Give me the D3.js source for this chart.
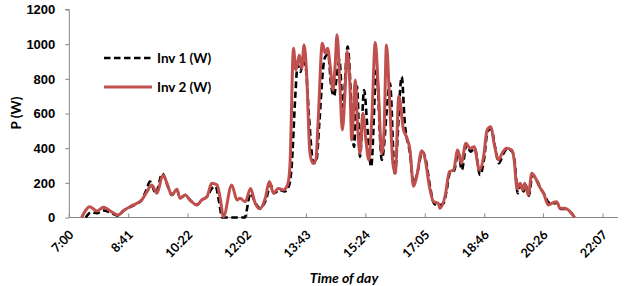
<!DOCTYPE html>
<html>
<head>
<meta charset="utf-8">
<script src="https://cdn.jsdelivr.net/npm/d3@7"></script>
<style>
    body { margin: 0; background: #fff; }
    svg { display: block; font-family: Lato, "Open Sans", sans-serif; }
</style>
</head>
<body>
<svg id="chart" width="627" height="286"></svg>
<script>
// x tick labels (category style, every ~101 min)
const tickLabels = ["7:00", "8:41", "10:22", "12:02", "13:43", "15:24", "17:05", "18:46", "20:26", "22:07"]
const yTicks = [0, 200, 400, 600, 800, 1000, 1200]

// Inv 1 (W)
const inv1Times = ["7:28", "7:37", "7:47", "7:58", "8:09", "8:23", "8:32", "8:43", "8:55", "9:03", "9:11", "9:17", "9:27", "9:38", "9:48", "9:54", "10:03", "10:08", "10:17", "10:25", "10:37", "10:45", "10:54", "11:03", "11:09", "11:14", "11:20", "11:58", "12:08", "12:16", "12:24", "12:34", "12:42", "12:48", "12:57", "13:06", "13:13", "13:18", "13:24", "13:28", "13:33", "13:37", "13:42", "13:47", "13:55", "14:00", "14:05", "14:12", "14:15", "14:20", "14:25", "14:30", "14:34", "14:39", "14:45", "14:53", "15:04", "15:09", "15:14", "15:21", "15:27", "15:33", "15:42", "15:51", "16:05", "16:13", "16:25", "16:30", "16:39", "16:45", "16:51", "17:00", "17:06", "17:13", "17:20", "17:28", "17:36", "17:41", "17:47", "17:54", "18:01", "18:07", "18:15", "18:22", "18:29", "18:38", "18:45", "18:51", "18:57", "19:04", "19:10", "19:18", "19:24", "19:33", "19:37", "19:42", "19:47", "19:52", "19:55", "20:01", "20:07", "20:12", "20:20", "20:27", "20:35", "20:41", "20:49", "20:55", "21:03", "21:12", "21:19"]
const inv1Values = [0, 30, 25, 40, 30, 10, 39, 60, 80, 100, 160, 207, 140, 254, 175, 130, 160, 111, 130, 101, 72, 101, 120, 170, 178, 100, 0, 0, 140, 85, 55, 100, 190, 140, 160, 150, 180, 300, 697, 880, 840, 900, 860, 600, 313, 330, 550, 880, 928, 940, 760, 700, 800, 909, 639, 986, 408, 755, 351, 736, 500, 293, 851, 332, 774, 255, 812, 550, 370, 197, 250, 380, 330, 180, 80, 70, 82, 150, 260, 270, 380, 274, 420, 380, 400, 245, 340, 500, 510, 400, 313, 370, 395, 380, 320, 140, 190, 150, 190, 125, 245, 230, 175, 135, 85, 80, 85, 50, 50, 30, 0]

// Inv 2 (W)
const inv2Times = ["7:21", "7:35", "7:47", "7:58", "8:09", "8:23", "8:32", "8:43", "8:55", "9:03", "9:12", "9:20", "9:29", "9:39", "9:48", "9:54", "10:03", "10:08", "10:17", "10:25", "10:37", "10:45", "10:54", "11:02", "11:11", "11:16", "11:22", "11:36", "11:45", "11:50", "11:59", "12:08", "12:16", "12:24", "12:33", "12:40", "12:47", "12:55", "13:04", "13:11", "13:15", "13:21", "13:25", "13:31", "13:35", "13:39", "13:43", "13:49", "13:54", "13:59", "14:03", "14:10", "14:15", "14:19", "14:24", "14:28", "14:32", "14:35", "14:40", "14:44", "14:49", "14:52", "14:57", "15:00", "15:06", "15:10", "15:14", "15:19", "15:24", "15:29", "15:34", "15:40", "15:45", "15:51", "15:55", "15:59", "16:04", "16:10", "16:14", "16:20", "16:28", "16:33", "16:39", "16:45", "16:50", "16:59", "17:05", "17:12", "17:19", "17:27", "17:30", "17:39", "17:46", "17:53", "18:00", "18:06", "18:14", "18:21", "18:28", "18:37", "18:44", "18:50", "18:56", "19:03", "19:09", "19:17", "19:23", "19:32", "19:36", "19:41", "19:46", "19:51", "19:54", "20:00", "20:06", "20:11", "20:19", "20:26", "20:34", "20:40", "20:48", "20:54", "21:02", "21:11", "21:19"]
const inv2Values = [0, 62, 37, 59, 39, 14, 39, 62, 82, 101, 149, 188, 140, 245, 178, 130, 163, 111, 130, 101, 72, 101, 120, 197, 188, 120, 5, 188, 101, 111, 91, 168, 82, 50, 111, 207, 140, 168, 159, 188, 300, 976, 851, 938, 861, 995, 851, 370, 313, 332, 563, 1005, 947, 976, 851, 736, 890, 1055, 755, 505, 755, 957, 755, 447, 793, 524, 370, 601, 447, 332, 563, 1010, 755, 370, 505, 995, 700, 310, 255, 700, 505, 466, 389, 180, 230, 385, 332, 178, 91, 82, 53, 130, 264, 274, 389, 313, 428, 399, 408, 274, 351, 505, 524, 408, 332, 380, 399, 389, 332, 165, 197, 159, 197, 130, 255, 235, 178, 140, 72, 82, 91, 53, 53, 34, 0]

const toMin = s => { const [h, m] = s.split(":").map(Number); return h * 60 + m }
const zip = (times, values) => times.map((t, i) => ({ t: toMin(t), v: values[i] }))

const series = [
    { name: "Inv 1 (W)", data: zip(inv1Times, inv1Values), color: "#000", width: 2.6, dash: "6.5,3.5" },
    { name: "Inv 2 (W)", data: zip(inv2Times, inv2Values), color: "#C0504D", width: 3, dash: null }
]

const svg = d3.select("#chart")

const x = d3.scaleLinear().domain([toMin("7:00"), toMin("22:07")]).range([69.3, 603])
const y = d3.scaleLinear().domain([0, 1200]).range([217.5, 9.5])
const xEnd = 618

// y axis
const yAxis = svg.append("g")
    .attr("transform", `translate(${x(toMin("7:00"))},0)`)
    .call(d3.axisLeft(y).tickValues(yTicks).tickFormat(d3.format("d")).tickSize(4).tickPadding(10))
yAxis.select(".domain").attr("stroke", "#868686").attr("d", `M-4,${y(1200)}H0V${y(0)}`)
yAxis.selectAll(".tick line").attr("stroke", "#868686")
yAxis.selectAll(".tick text")
    .attr("fill", "#000")
    .style("font-size", "13px")
    .style("font-weight", "bold")

// x axis
const xAxis = svg.append("g")
    .attr("transform", `translate(0,${y(0)})`)
xAxis.append("line")
    .attr("x1", x(toMin("7:00"))).attr("x2", xEnd)
    .attr("stroke", "#868686")
const xt = xAxis.selectAll("g.tick")
    .data(tickLabels)
    .join("g")
    .attr("class", "tick")
    .attr("transform", d => `translate(${x(toMin(d))},0)`)
xt.append("line").attr("y2", -4).attr("stroke", "#868686")
xt.append("text")
    .attr("transform", "translate(2,15) rotate(-45)")
    .attr("text-anchor", "end")
    .attr("dy", "0.35em")
    .style("font-size", "12.5px")
    .style("font-weight", "bold")
    .text(d => d)

// axis titles
svg.append("text")
    .attr("transform", "translate(21,113) rotate(-90)")
    .attr("text-anchor", "middle")
    .style("font-size", "13.5px")
    .style("font-weight", "bold")
    .text("P (W)")

svg.append("text")
    .attr("x", 344).attr("y", 283)
    .attr("text-anchor", "middle")
    .style("font-size", "14px")
    .style("font-weight", "bold")
    .style("font-style", "italic")
    .text("Time of day")

// lines
const line = d3.line()
    .x(d => x(d.t))
    .y(d => y(d.v))
    .curve(d3.curveMonotoneX)

svg.selectAll("path.series")
    .data(series)
    .join("path")
    .attr("class", "series")
    .attr("d", d => line(d.data))
    .attr("fill", "none")
    .attr("stroke", d => d.color)
    .attr("stroke-width", d => d.width)
    .attr("stroke-dasharray", d => d.dash)
    .attr("stroke-linejoin", "round")

// legend
const legend = svg.selectAll("g.legend")
    .data(series)
    .join("g")
    .attr("class", "legend")
    .attr("transform", (d, i) => `translate(104,${58 + i * 29})`)
legend.append("line")
    .attr("x2", 48)
    .attr("stroke", d => d.color)
    .attr("stroke-width", d => d.width)
    .attr("stroke-dasharray", d => d.dash)
legend.append("text")
    .attr("x", 53)
    .attr("dy", "0.35em")
    .style("font-size", "13.5px")
    .style("font-weight", "bold")
    .text(d => d.name)
</script>
</body>
</html>
